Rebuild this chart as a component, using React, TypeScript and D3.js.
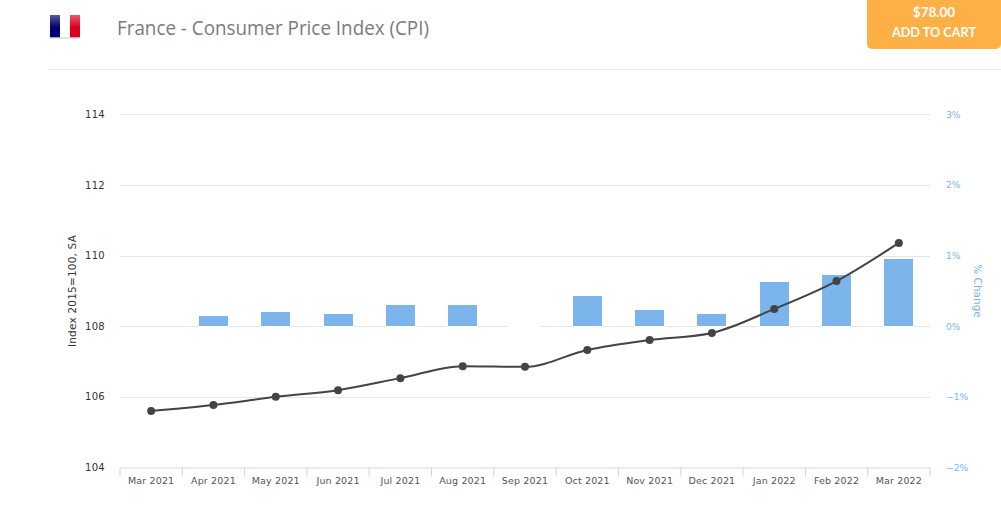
import React, { useRef, useEffect } from 'react';
import * as d3 from 'd3';

const months = ['Mar 2021', 'Apr 2021', 'May 2021', 'Jun 2021', 'Jul 2021', 'Aug 2021', 'Sep 2021', 'Oct 2021', 'Nov 2021', 'Dec 2021', 'Jan 2022', 'Feb 2022', 'Mar 2022'];
const cpi = [105.61, 105.78, 106.01, 106.2, 106.54, 106.88, 106.86, 107.34, 107.62, 107.82, 108.5, 109.29, 110.37];
const change: (number | null)[] = [null, 0.16, 0.21, 0.18, 0.31, 0.31, 0, 0.44, 0.24, 0.18, 0.64, 0.74, 0.96];
const leftTicks = [104, 106, 108, 110, 112, 114];
const rightTicks = [-2, -1, 0, 1, 2, 3];

const App: React.FC = () => {
  const svgRef = useRef<SVGSVGElement>(null);

  useEffect(() => {
    const svg = d3.select(svgRef.current);
    svg.selectAll('*').remove(); // Clear SVG content before drawing

    const width = 1001;
    const height = 520;
    const margin = { top: 114.8, right: 71, bottom: 52.2, left: 120 };
    const bottom = height - margin.bottom;
    const labelFont = '"DejaVu Sans", sans-serif';
    const crisp = (v: number) => Math.floor(v) + 0.5;

    const x = d3.scaleBand<string>().domain(months).range([margin.left, width - margin.right]);
    const yLeft = d3.scaleLinear().domain([104, 114]).range([bottom, margin.top]);
    const yRight = d3.scaleLinear().domain([-2, 3]).range([bottom, margin.top]);
    const barW = 30;

    // Header
    const defs = svg.append('defs');
    const shine = defs.append('linearGradient').attr('id', 'shine').attr('x1', 0).attr('x2', 0).attr('y1', 0).attr('y2', 1);
    shine.append('stop').attr('offset', '0%').attr('stop-color', '#fff').attr('stop-opacity', 0.35);
    shine.append('stop').attr('offset', '55%').attr('stop-color', '#fff').attr('stop-opacity', 0);

    const flag = svg.append('g').attr('transform', 'translate(50,15)');
    flag.append('rect').attr('width', 10).attr('height', 22.5).attr('fill', '#00006e');
    flag.append('rect').attr('x', 10).attr('width', 10).attr('height', 22.5).attr('fill', '#ffffff');
    flag.append('rect').attr('x', 20).attr('width', 10).attr('height', 22.5).attr('fill', '#d9001f');
    flag.append('rect').attr('width', 30).attr('height', 22.5).attr('fill', 'url(#shine)');
    flag.append('line').attr('x1', 0).attr('x2', 30).attr('y1', 23).attr('y2', 23).attr('stroke', '#c8c8c8');

    svg.append('text').attr('x', 117).attr('y', 35)
      .attr('font-family', '"Open Sans", sans-serif').attr('font-size', 20.5).attr('fill', '#7b7b7b')
      .attr('textLength', 312).attr('lengthAdjust', 'spacingAndGlyphs')
      .text('France - Consumer Price Index (CPI)');

    svg.append('line').attr('x1', 49).attr('x2', width).attr('y1', 69.5).attr('y2', 69.5).attr('stroke', '#e6e6e6');

    svg.append('rect').attr('x', 867).attr('y', -6).attr('width', 134).attr('height', 55).attr('rx', 5).attr('fill', '#fdb045');
    svg.append('text').attr('x', 934).attr('y', 17).attr('text-anchor', 'middle')
      .attr('font-family', 'Lato, sans-serif').attr('font-weight', 700).attr('font-size', 13.5).attr('fill', '#fff').text('$78.00');
    svg.append('text').attr('x', 934).attr('y', 37).attr('text-anchor', 'middle')
      .attr('font-family', 'Lato, sans-serif').attr('font-weight', 700).attr('font-size', 12.7).attr('fill', '#fff').text('ADD TO CART');

    // Grid
    svg.append('g').selectAll('line').data(leftTicks.filter(d => d !== 104)).join('line')
      .attr('x1', margin.left).attr('x2', width - margin.right)
      .attr('y1', d => crisp(yLeft(d))).attr('y2', d => crisp(yLeft(d)))
      .attr('stroke', '#e6e6e6');

    // Left axis
    const gLeft = svg.append('g').attr('transform', `translate(${margin.left},-0.5)`)
      .call(d3.axisLeft(yLeft).tickValues(leftTicks).tickSize(0).tickPadding(15));
    gLeft.select('.domain').remove();
    gLeft.selectAll('text').attr('font-family', labelFont).attr('font-size', 10).attr('fill', '#333').attr('letter-spacing', 0.3);

    // Right axis
    const gRight = svg.append('g').attr('transform', `translate(${width - margin.right},-0.5)`)
      .call(d3.axisRight(yRight).tickValues(rightTicks).tickSize(0).tickPadding(16).tickFormat(d => `${String(d).replace('-', '\u2212')}%`));
    gRight.select('.domain').remove();
    gRight.selectAll('text').attr('font-family', labelFont).attr('font-size', 9.2).attr('fill', '#7cb5ec');

    // Bottom axis
    const gBottom = svg.append('g').attr('transform', `translate(0,${crisp(bottom)})`)
      .call(d3.axisBottom(x).tickSize(0).tickPadding(10));
    gBottom.select('.domain').attr('stroke', '#ccd6eb');
    gBottom.selectAll('text').attr('font-family', labelFont).attr('font-size', 9.5).attr('fill', '#555').attr('letter-spacing', 0.15);
    gBottom.selectAll('line.sep').data([...months.map(m => x(m)!), width - margin.right]).join('line')
      .attr('class', 'sep').attr('x1', d => d).attr('x2', d => d).attr('y1', 0).attr('y2', 9).attr('stroke', '#ccd6eb');

    // Axis titles
    svg.append('text').attr('transform', 'translate(76,291) rotate(-90)').attr('text-anchor', 'middle')
      .attr('font-family', labelFont).attr('font-size', 10.5).attr('fill', '#333').attr('letter-spacing', 0.2).text('Index 2015=100, SA');
    svg.append('text').attr('transform', 'translate(974,291) rotate(90)').attr('text-anchor', 'middle')
      .attr('font-family', labelFont).attr('font-size', 10.5).attr('fill', '#7cb5ec').text('% Change');

    // Bars, the white outline cuts the grid lines as in the original
    svg.append('g').selectAll('rect')
      .data(months.map((m, i) => ({ m, v: change[i] })).filter(d => d.v !== null))
      .join('rect')
      .attr('x', d => crisp(x(d.m)! + (x.bandwidth() - barW) / 2))
      .attr('y', d => crisp(yRight(d.v!)))
      .attr('width', barW)
      .attr('height', d => Math.max(crisp(yRight(0)) - crisp(yRight(d.v!)), 0.1)) // zero height rect would not paint its outline
      .attr('fill', '#7cb5ec')
      .attr('stroke', '#fff')
      .attr('stroke-width', 1);

    // Line
    const line = d3.line<number>()
      .x((_, i) => x(months[i])! + x.bandwidth() / 2)
      .y(d => yLeft(d))
      .curve(d3.curveMonotoneX);

    svg.append('path').datum(cpi).attr('d', line).attr('fill', 'none').attr('stroke', '#434348').attr('stroke-width', 2);

    svg.append('g').selectAll('circle').data(cpi).join('circle')
      .attr('cx', (_, i) => x(months[i])! + x.bandwidth() / 2)
      .attr('cy', d => yLeft(d))
      .attr('r', 4)
      .attr('fill', '#434348');
  }, []);

  return <svg ref={svgRef} width="1001" height="520" style={{ position: 'absolute', left: 0, top: 0 }}></svg>;
};

export default App;
